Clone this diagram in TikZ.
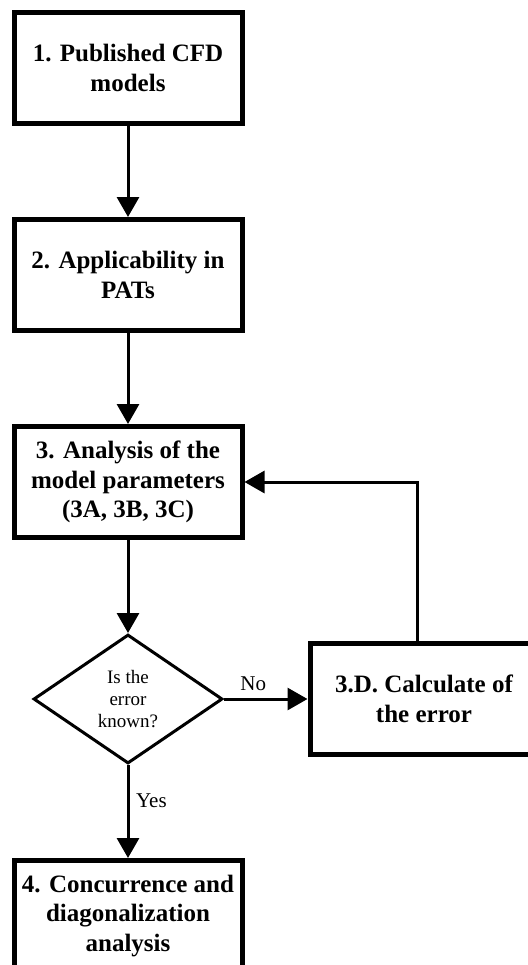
\documentclass[tikz,border=0pt]{standalone}
\usepackage{fontspec}
\setmainfont{Liberation Serif}
\usetikzlibrary{shapes.geometric,arrows.meta}
\tikzstyle{arrow} = [line width=1.5pt,-{Triangle[width=11pt,length=10pt]}]
\tikzset{stage/.style={rectangle,draw,line width=2.5pt,minimum width=114pt,minimum height=55.5pt,align=center,font=\fontsize{12.5}{14.8}\selectfont\bfseries,fill=white},
question/.style={diamond,draw,line width=1.5pt,minimum width=94.5pt,minimum height=64.5pt,inner sep=0pt,align=center,font=\fontsize{9.5}{10.8}\selectfont},
answer/.style={font=\fontsize{10.5}{12}\selectfont}}

\begin{document}
\begin{tikzpicture}[x=0.5pt,y=-0.5pt,node distance=103.5pt]
    \clip (0,0) rectangle (528,965);
    \node [stage] (published) at (128,68) {1. Published CFD\\models};
    \node [stage, below of = published] (applicability) {2. Applicability in\\PATs};
    \node [stage, below of = applicability] (analysis) {3. Analysis of the\\model parameters\\(3A, 3B, 3C)};
    \node [question, below of = analysis, yshift = -5pt] (known) {Is the\\error\\known?};
    \node [stage, below of = known, yshift = -5pt] (concurrence) {4. Concurrence and\\diagonalization\\analysis};
    \node [stage, right of = known, xshift = 44.5pt] (calculate) {3.D. Calculate of\\the error};

    \draw [arrow] (published) -- (applicability);
    \draw [arrow] (applicability) -- (analysis);
    \draw [arrow] (analysis) -- (known);
    \draw [arrow] (known) -- (calculate) node[pos=0.35, above, answer] {No};
    \draw [arrow] (known) -- (concurrence) node[pos=0.38, right, answer] {Yes};
    % loop back from 3.D to 3
    \draw [arrow] ([xshift=-3.5pt]calculate.north) |- (analysis.east);
\end{tikzpicture}
\end{document}
